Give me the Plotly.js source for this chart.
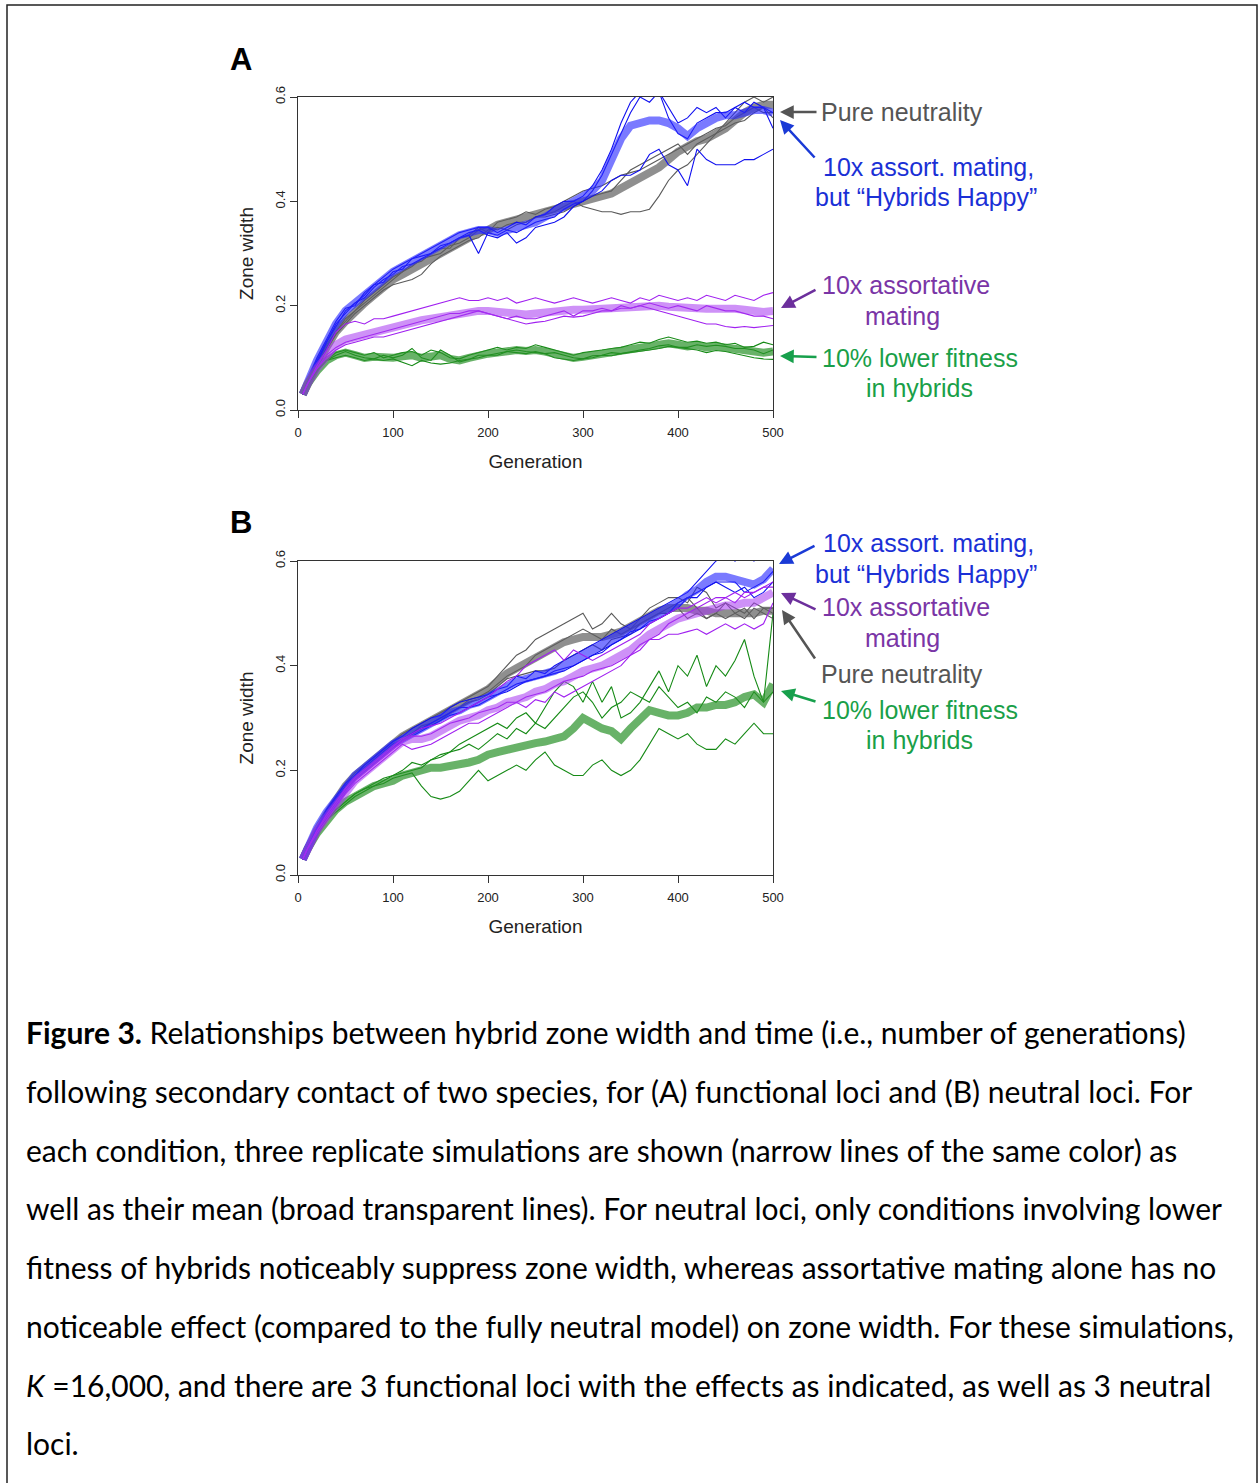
<!DOCTYPE html>
<html><head><meta charset="utf-8">
<script src="https://cdn.plot.ly/plotly-3.0.1.min.js"></script>
<style>html,body{margin:0;padding:0;background:#fff}#fig{width:1258px;height:1483px}</style>
</head><body><div id="fig"></div>
<script>
// ---------------- DATA ----------------
const generations = [5,10,20,30,40,50,60,70,80,90,100,110,120,130,140,150,160,170,180,190,200,210,220,230,240,250,260,270,280,290,300,310,320,330,340,350,360,370,380,390,400,410,420,430,440,450,460,470,480,490,500];
const xTicks = [0,100,200,300,400,500];
const yTicks = [0,0.2,0.4,0.6];
const yTickText = ['0.0','0.2','0.4','0.6'];

// Panel A (functional loci)
const A_neutral_mean = [0.03,
0.05,0.085,0.12,0.15,0.17,0.19,0.205,0.22,0.235,0.25,
0.26,0.27,0.28,0.29,0.30,0.31,0.32,0.33,0.34,0.345,
0.355,0.36,0.365,0.37,0.375,0.38,0.385,0.39,0.395,0.40,
0.405,0.41,0.415,0.425,0.435,0.445,0.455,0.465,0.48,0.495,
0.505,0.515,0.52,0.53,0.54,0.555,0.57,0.58,0.585,0.585];
const A_neutral_rep1 = [0.03,
0.05,0.09,0.125,0.15,0.175,0.19,0.21,0.225,0.24,0.255,
0.265,0.28,0.285,0.30,0.31,0.31,0.33,0.335,0.35,0.34,
0.36,0.365,0.37,0.38,0.375,0.385,0.39,0.40,0.41,0.42,
0.425,0.43,0.44,0.45,0.455,0.46,0.47,0.48,0.49,0.50,
0.51,0.52,0.53,0.54,0.545,0.56,0.57,0.58,0.57,0.57];
const A_neutral_rep2 = [0.03,
0.05,0.08,0.115,0.145,0.165,0.185,0.20,0.215,0.23,0.24,
0.245,0.25,0.26,0.28,0.295,0.305,0.315,0.325,0.33,0.345,
0.35,0.345,0.355,0.36,0.37,0.375,0.38,0.39,0.40,0.39,
0.385,0.38,0.38,0.375,0.38,0.38,0.385,0.41,0.44,0.46,
0.47,0.49,0.51,0.53,0.55,0.57,0.59,0.60,0.59,0.60];
const A_neutral_rep3 = [0.03,
0.05,0.085,0.12,0.15,0.17,0.19,0.205,0.22,0.235,0.25,
0.265,0.275,0.29,0.295,0.30,0.315,0.32,0.33,0.345,0.35,
0.345,0.355,0.36,0.36,0.37,0.37,0.375,0.38,0.39,0.40,
0.41,0.415,0.42,0.44,0.46,0.47,0.48,0.49,0.50,0.51,
0.49,0.51,0.52,0.53,0.54,0.55,0.555,0.57,0.58,0.56];

const A_happy_mean = [0.03,
0.055,0.095,0.13,0.165,0.19,0.205,0.22,0.235,0.25,0.265,
0.275,0.285,0.295,0.305,0.315,0.325,0.335,0.34,0.345,0.345,
0.34,0.345,0.35,0.355,0.36,0.37,0.38,0.39,0.40,0.41,
0.42,0.44,0.48,0.52,0.545,0.55,0.555,0.555,0.55,0.54,
0.525,0.54,0.55,0.56,0.565,0.565,0.57,0.575,0.575,0.57];
const A_happy_rep1 = [0.03,
0.055,0.10,0.135,0.17,0.195,0.20,0.225,0.24,0.255,0.27,
0.28,0.29,0.30,0.31,0.32,0.33,0.34,0.345,0.35,0.35,
0.34,0.35,0.36,0.355,0.37,0.375,0.39,0.40,0.40,0.41,
0.43,0.46,0.50,0.55,0.59,0.61,0.62,0.61,0.58,0.55,
0.56,0.58,0.57,0.58,0.56,0.58,0.59,0.58,0.58,0.57];
const A_happy_rep2 = [0.03,
0.05,0.09,0.13,0.16,0.19,0.205,0.215,0.235,0.25,0.26,
0.275,0.28,0.29,0.30,0.31,0.32,0.33,0.335,0.30,0.34,
0.335,0.345,0.34,0.35,0.36,0.365,0.37,0.385,0.395,0.40,
0.42,0.45,0.49,0.53,0.57,0.60,0.59,0.61,0.56,0.53,
0.52,0.55,0.56,0.57,0.57,0.58,0.57,0.59,0.58,0.54];
const A_happy_rep3 = [0.03,
0.055,0.095,0.13,0.165,0.185,0.205,0.22,0.24,0.245,0.265,
0.27,0.29,0.295,0.30,0.315,0.32,0.33,0.34,0.345,0.335,
0.33,0.34,0.32,0.33,0.35,0.355,0.36,0.37,0.39,0.40,
0.41,0.42,0.44,0.45,0.45,0.46,0.49,0.50,0.47,0.46,
0.43,0.50,0.48,0.47,0.47,0.47,0.48,0.48,0.49,0.50];

const A_assort_mean = [0.03,
0.05,0.08,0.105,0.125,0.135,0.14,0.145,0.15,0.155,0.16,
0.165,0.17,0.172,0.175,0.178,0.182,0.185,0.188,0.19,0.19,
0.188,0.186,0.185,0.183,0.185,0.187,0.19,0.19,0.192,0.192,
0.193,0.195,0.195,0.194,0.195,0.197,0.20,0.20,0.198,0.196,
0.195,0.195,0.194,0.195,0.196,0.194,0.192,0.19,0.188,0.19];
const A_assort_rep1 = [0.03,
0.05,0.085,0.115,0.15,0.165,0.17,0.165,0.175,0.175,0.18,
0.185,0.19,0.195,0.20,0.205,0.21,0.215,0.21,0.21,0.215,
0.21,0.215,0.205,0.21,0.215,0.21,0.205,0.21,0.215,0.21,
0.205,0.21,0.215,0.21,0.205,0.215,0.21,0.22,0.215,0.21,
0.215,0.21,0.22,0.215,0.21,0.22,0.215,0.21,0.22,0.225];
const A_assort_rep2 = [0.03,
0.05,0.08,0.10,0.115,0.125,0.13,0.135,0.14,0.14,0.145,
0.15,0.155,0.16,0.165,0.17,0.175,0.18,0.185,0.19,0.185,
0.18,0.175,0.17,0.165,0.168,0.17,0.175,0.18,0.178,0.18,
0.185,0.19,0.19,0.195,0.195,0.20,0.195,0.19,0.185,0.18,
0.175,0.17,0.165,0.165,0.16,0.158,0.16,0.158,0.16,0.162];
const A_assort_rep3 = [0.03,
0.05,0.08,0.105,0.12,0.13,0.135,0.14,0.145,0.15,0.155,
0.16,0.165,0.17,0.175,0.18,0.185,0.185,0.19,0.19,0.185,
0.18,0.175,0.18,0.175,0.175,0.18,0.185,0.19,0.18,0.19,
0.19,0.195,0.19,0.20,0.195,0.20,0.205,0.20,0.195,0.20,
0.195,0.19,0.20,0.195,0.19,0.19,0.185,0.18,0.18,0.175];

const A_fitness_mean = [0.03,
0.05,0.075,0.095,0.105,0.11,0.105,0.10,0.102,0.10,0.10,
0.103,0.105,0.10,0.102,0.105,0.098,0.095,0.10,0.105,0.108,
0.11,0.113,0.115,0.113,0.115,0.112,0.108,0.105,0.10,0.102,
0.105,0.108,0.11,0.112,0.115,0.118,0.12,0.125,0.128,0.125,
0.122,0.124,0.12,0.122,0.12,0.118,0.115,0.112,0.11,0.112];
const A_fitness_rep1 = [0.03,
0.05,0.075,0.095,0.11,0.115,0.11,0.105,0.11,0.10,0.105,
0.11,0.112,0.105,0.115,0.11,0.10,0.098,0.105,0.11,0.115,
0.12,0.115,0.12,0.118,0.125,0.12,0.115,0.11,0.105,0.11,
0.112,0.115,0.118,0.12,0.125,0.13,0.128,0.135,0.14,0.135,
0.13,0.132,0.128,0.13,0.125,0.128,0.12,0.122,0.13,0.125];
const A_fitness_rep2 = [0.03,
0.05,0.075,0.095,0.10,0.105,0.10,0.095,0.098,0.095,0.098,
0.092,0.085,0.095,0.09,0.088,0.09,0.095,0.098,0.10,0.105,
0.108,0.112,0.11,0.108,0.112,0.108,0.10,0.098,0.095,0.098,
0.10,0.105,0.104,0.108,0.11,0.112,0.115,0.118,0.122,0.12,
0.118,0.115,0.11,0.114,0.112,0.108,0.105,0.10,0.098,0.097];
const A_fitness_rep3 = [0.03,
0.05,0.075,0.095,0.105,0.112,0.105,0.10,0.098,0.105,0.10,
0.105,0.118,0.10,0.095,0.115,0.105,0.092,0.097,0.105,0.105,
0.105,0.112,0.115,0.112,0.11,0.108,0.11,0.105,0.10,0.098,
0.104,0.105,0.11,0.108,0.112,0.115,0.118,0.123,0.125,0.12,
0.12,0.125,0.122,0.124,0.122,0.118,0.118,0.115,0.108,0.115];

// Panel B (neutral loci)
const B_neutral_mean = [0.03,
0.05,0.085,0.115,0.145,0.17,0.19,0.205,0.22,0.235,0.25,
0.265,0.275,0.285,0.295,0.305,0.315,0.325,0.335,0.345,0.355,
0.37,0.385,0.395,0.405,0.415,0.425,0.435,0.445,0.45,0.455,
0.455,0.455,0.46,0.465,0.475,0.485,0.495,0.505,0.51,0.51,
0.51,0.505,0.505,0.50,0.50,0.50,0.50,0.50,0.505,0.505];
const B_neutral_rep1 = [0.03,
0.05,0.09,0.12,0.15,0.175,0.195,0.21,0.225,0.24,0.255,
0.27,0.28,0.29,0.30,0.31,0.32,0.33,0.34,0.35,0.36,
0.38,0.40,0.42,0.43,0.45,0.46,0.47,0.48,0.49,0.50,
0.47,0.48,0.50,0.48,0.47,0.49,0.51,0.52,0.53,0.53,
0.52,0.55,0.54,0.51,0.52,0.50,0.51,0.49,0.51,0.50];
const B_neutral_rep2 = [0.03,
0.05,0.085,0.115,0.145,0.165,0.185,0.20,0.22,0.235,0.25,
0.26,0.27,0.285,0.29,0.30,0.31,0.32,0.335,0.34,0.35,
0.365,0.38,0.39,0.40,0.42,0.43,0.44,0.45,0.46,0.47,
0.46,0.45,0.47,0.46,0.47,0.48,0.49,0.50,0.50,0.51,
0.49,0.50,0.49,0.50,0.49,0.50,0.49,0.51,0.50,0.49];
const B_neutral_rep3 = [0.03,
0.05,0.08,0.11,0.14,0.165,0.185,0.20,0.215,0.23,0.245,
0.26,0.27,0.28,0.285,0.295,0.31,0.32,0.33,0.335,0.345,
0.36,0.375,0.38,0.385,0.39,0.39,0.395,0.41,0.42,0.43,
0.44,0.43,0.45,0.455,0.46,0.48,0.49,0.50,0.51,0.52,
0.53,0.51,0.49,0.50,0.52,0.51,0.50,0.52,0.51,0.51];

const B_happy_mean = [0.03,
0.05,0.09,0.12,0.145,0.17,0.19,0.205,0.22,0.235,0.25,
0.26,0.27,0.28,0.29,0.30,0.31,0.315,0.325,0.33,0.34,
0.35,0.36,0.37,0.375,0.38,0.385,0.39,0.40,0.41,0.42,
0.43,0.44,0.45,0.46,0.47,0.48,0.49,0.50,0.51,0.52,
0.535,0.545,0.56,0.57,0.57,0.565,0.56,0.555,0.565,0.585];
const B_happy_rep1 = [0.03,
0.05,0.09,0.125,0.15,0.175,0.19,0.21,0.225,0.24,0.255,
0.265,0.28,0.29,0.30,0.305,0.32,0.33,0.335,0.34,0.345,
0.355,0.36,0.38,0.375,0.39,0.385,0.40,0.41,0.42,0.43,
0.44,0.45,0.46,0.47,0.48,0.49,0.50,0.51,0.52,0.53,
0.54,0.56,0.58,0.60,0.61,0.60,0.61,0.60,0.62,0.62];
const B_happy_rep2 = [0.03,
0.05,0.09,0.12,0.145,0.17,0.19,0.205,0.22,0.235,0.25,
0.26,0.27,0.28,0.29,0.30,0.31,0.32,0.32,0.33,0.34,
0.345,0.35,0.36,0.37,0.375,0.38,0.39,0.395,0.40,0.41,
0.42,0.43,0.44,0.45,0.46,0.47,0.48,0.49,0.50,0.51,
0.53,0.53,0.55,0.56,0.55,0.54,0.55,0.53,0.54,0.56];
const B_happy_rep3 = [0.03,
0.05,0.09,0.12,0.145,0.165,0.185,0.20,0.215,0.23,0.245,
0.255,0.265,0.275,0.285,0.295,0.305,0.31,0.32,0.325,0.335,
0.345,0.355,0.365,0.37,0.375,0.38,0.385,0.39,0.40,0.41,
0.42,0.425,0.44,0.45,0.465,0.47,0.485,0.49,0.50,0.52,
0.53,0.54,0.55,0.56,0.56,0.56,0.54,0.55,0.56,0.58];

const B_assort_mean = [0.03,
0.05,0.085,0.11,0.135,0.16,0.18,0.195,0.21,0.225,0.24,
0.255,0.26,0.26,0.265,0.275,0.285,0.295,0.30,0.305,0.315,
0.32,0.33,0.335,0.34,0.35,0.355,0.365,0.37,0.38,0.39,
0.395,0.40,0.41,0.42,0.43,0.445,0.46,0.47,0.48,0.49,
0.495,0.50,0.505,0.51,0.515,0.515,0.52,0.52,0.53,0.54];
const B_assort_rep1 = [0.03,
0.05,0.085,0.115,0.14,0.165,0.185,0.20,0.215,0.23,0.245,
0.26,0.27,0.28,0.285,0.29,0.30,0.31,0.32,0.33,0.34,
0.355,0.37,0.38,0.40,0.41,0.42,0.43,0.41,0.43,0.42,
0.41,0.42,0.43,0.44,0.45,0.46,0.48,0.49,0.50,0.51,
0.51,0.52,0.53,0.52,0.53,0.54,0.53,0.54,0.55,0.55];
const B_assort_rep2 = [0.03,
0.05,0.08,0.105,0.13,0.155,0.175,0.19,0.205,0.22,0.235,
0.25,0.24,0.245,0.25,0.26,0.27,0.28,0.29,0.29,0.30,
0.31,0.32,0.33,0.32,0.335,0.33,0.35,0.34,0.35,0.36,
0.37,0.38,0.39,0.40,0.42,0.44,0.45,0.45,0.46,0.46,
0.465,0.47,0.46,0.47,0.48,0.47,0.48,0.47,0.48,0.52];
const B_assort_rep3 = [0.03,
0.05,0.085,0.11,0.135,0.16,0.18,0.195,0.21,0.225,0.24,
0.255,0.265,0.265,0.27,0.28,0.29,0.295,0.30,0.31,0.315,
0.32,0.33,0.33,0.34,0.345,0.35,0.36,0.37,0.375,0.38,
0.39,0.395,0.40,0.41,0.42,0.43,0.45,0.46,0.48,0.49,
0.50,0.51,0.52,0.53,0.53,0.52,0.54,0.54,0.55,0.56];

const B_fitness_mean = [0.03,
0.05,0.08,0.105,0.125,0.14,0.15,0.16,0.17,0.175,0.18,
0.19,0.195,0.20,0.205,0.205,0.208,0.21,0.215,0.22,0.23,
0.235,0.24,0.245,0.25,0.252,0.255,0.26,0.265,0.28,0.30,
0.29,0.28,0.275,0.26,0.28,0.30,0.315,0.31,0.305,0.305,
0.31,0.32,0.32,0.325,0.325,0.33,0.34,0.345,0.33,0.365];
const B_fitness_rep1 = [0.03,
0.05,0.08,0.105,0.125,0.14,0.155,0.165,0.17,0.18,0.19,
0.195,0.20,0.205,0.22,0.225,0.235,0.25,0.26,0.27,0.28,
0.29,0.28,0.30,0.31,0.29,0.32,0.35,0.37,0.36,0.33,
0.37,0.33,0.36,0.30,0.31,0.33,0.36,0.39,0.35,0.40,
0.38,0.42,0.36,0.40,0.38,0.41,0.45,0.38,0.33,0.50];
const B_fitness_rep2 = [0.03,
0.05,0.08,0.105,0.12,0.135,0.15,0.16,0.17,0.175,0.185,
0.19,0.195,0.17,0.15,0.145,0.15,0.16,0.18,0.20,0.18,
0.19,0.20,0.21,0.20,0.22,0.235,0.21,0.20,0.19,0.19,
0.21,0.22,0.20,0.19,0.20,0.22,0.25,0.28,0.27,0.26,
0.27,0.25,0.24,0.24,0.26,0.25,0.27,0.29,0.27,0.27];
const B_fitness_rep3 = [0.03,
0.05,0.08,0.105,0.125,0.14,0.155,0.165,0.175,0.185,0.19,
0.20,0.215,0.21,0.22,0.23,0.235,0.24,0.25,0.24,0.255,
0.27,0.26,0.28,0.27,0.29,0.28,0.30,0.32,0.34,0.35,
0.33,0.30,0.32,0.33,0.35,0.34,0.33,0.36,0.34,0.32,
0.33,0.31,0.34,0.33,0.35,0.34,0.32,0.35,0.33,0.35];

// ---------------- STYLE ----------------
const styles = {
  neutral: {thin:'#5a5a5a', thick:'rgba(95,95,95,0.70)'},
  happy:   {thin:'#1010f0', thick:'rgba(40,40,255,0.62)'},
  fitness: {thin:'#158a15', thick:'rgba(40,145,40,0.70)'},
  assort:  {thin:'#a020f0', thick:'rgba(165,55,240,0.55)'}
};
const panels = [
  {x:'x', y:'y', groups:[
    ['neutral',[A_neutral_rep1,A_neutral_rep2,A_neutral_rep3],A_neutral_mean],
    ['happy',[A_happy_rep1,A_happy_rep2,A_happy_rep3],A_happy_mean],
    ['fitness',[A_fitness_rep1,A_fitness_rep2,A_fitness_rep3],A_fitness_mean],
    ['assort',[A_assort_rep1,A_assort_rep2,A_assort_rep3],A_assort_mean]]},
  {x:'x2', y:'y2', groups:[
    ['fitness',[B_fitness_rep1,B_fitness_rep2,B_fitness_rep3],B_fitness_mean],
    ['neutral',[B_neutral_rep1,B_neutral_rep2,B_neutral_rep3],B_neutral_mean],
    ['happy',[B_happy_rep1,B_happy_rep2,B_happy_rep3],B_happy_mean],
    ['assort',[B_assort_rep1,B_assort_rep2,B_assort_rep3],B_assort_mean]]}
];
const traces = [];
panels.forEach(p => {
  p.groups.forEach(([key, reps, mean]) => {
    reps.forEach(r => traces.push({x:generations, y:r, xaxis:p.x, yaxis:p.y, type:'scatter', mode:'lines',
      line:{color:styles[key].thin, width:1.1}, hoverinfo:'skip', showlegend:false}));
    traces.push({x:generations, y:mean, xaxis:p.x, yaxis:p.y, type:'scatter', mode:'lines',
      line:{color:styles[key].thick, width:8}, hoverinfo:'skip', showlegend:false});
  });
});

const W = 1258, H = 1483;
const px = v => v / W;
const py = v => 1 - v / H;

function xa(dom, anchor){
  return {domain:dom, anchor:anchor, range:[0,500], tickvals:xTicks, ticks:'outside', ticklen:7,
    tickcolor:'#333', showline:true, linecolor:'#333', linewidth:1, mirror:true, showgrid:false, zeroline:false,
    tickfont:{size:13, color:'#222'}, ticklabelstandoff:3,
    title:{text:'Generation', font:{size:19, color:'#222'}, standoff:16}};
}
function ya(dom, anchor){
  return {domain:dom, anchor:anchor, range:[0,0.6], tickvals:yTicks, ticktext:yTickText, tickangle:-90,
    ticks:'outside', ticklen:7, tickcolor:'#333', showline:true, linecolor:'#333', linewidth:1, mirror:true,
    showgrid:false, zeroline:false, tickfont:{size:13, color:'#222'},
    title:{text:'Zone width', font:{size:19, color:'#222'}, standoff:14}};
}

// caption
const capLines = [
  '<b>Figure 3.</b> Relationships between hybrid zone width and time (i.e., number of generations)',
  'following secondary contact of two species, for (A) functional loci and (B) neutral loci. For',
  'each condition, three replicate simulations are shown (narrow lines of the same color) as',
  'well as their mean (broad transparent lines). For neutral loci, only conditions involving lower',
  'fitness of hybrids noticeably suppress zone width, whereas assortative mating alone has no',
  'noticeable effect (compared to the fully neutral model) on zone width. For these simulations,',
  '<i>K</i> =16,000, and there are 3 functional loci with the effects as indicated, as well as 3 neutral',
  'loci.'
];
const capY = [1032,1091,1150,1208,1267,1326,1385,1443];
const cv = document.createElement('canvas').getContext('2d');
cv.font = '100px Lato';
const wRef = cv.measureText('noticeable effect (compared to the fully neutral model) on zone width. For these simulations,').width;
const capSize = Math.max(20, Math.min(32, 100 * 1210 / wRef));

const annotations = [];
capLines.forEach((t,i) => annotations.push({xref:'paper', yref:'paper', x:px(24), y:py(capY[i]),
  xanchor:'left', yanchor:'middle', align:'left', showarrow:false, text:t,
  font:{family:'Lato, Carlito, sans-serif', size:capSize, color:'#000'}}));

// panel letters
annotations.push({xref:'paper', yref:'paper', x:px(241), y:py(60), text:'<b>A</b>', showarrow:false,
  font:{size:31, color:'#000'}, xanchor:'center', yanchor:'middle'});
annotations.push({xref:'paper', yref:'paper', x:px(241), y:py(522), text:'<b>B</b>', showarrow:false,
  font:{size:31, color:'#000'}, xanchor:'center', yanchor:'middle'});

// condition labels (one entry per text line)
const labelColors = {neutral:'#555555', happy:'#1a30d6', assort:'#7a35a6', fitness:'#1a9f48'};
const arrowColors = {neutral:'#555555', happy:'#1a3ad6', assort:'#6c2f9c', fitness:'#17a04c'};
const labelLines = {
  neutral:[['Pure neutrality', 902]],
  happy:[['10x assort. mating,', 929], ['but “Hybrids Happy”', 926]],
  assort:[['10x assortative', 906], ['mating', 902]],
  fitness:[['10% lower fitness', 920], ['in hybrids', 919]]
};
const labelPos = [
  // key, first line center y, head x, head y, tail x, tail y
  ['neutral', 112, 780, 112, 818, 112],
  ['happy', 167, 780, 120, 816, 159],
  ['assort', 285, 781, 308, 817, 289],
  ['fitness', 358, 780, 356, 818, 357],
  ['happy', 543, 779, 564, 816, 545],
  ['assort', 607, 781, 593, 817, 610],
  ['neutral', 674, 782, 610, 816, 660],
  ['fitness', 710, 781, 691, 817, 702]
];
labelPos.forEach(([k, ty, hx, hy, sx, sy]) => {
  labelLines[k].forEach(([t, cx], j) => {
    annotations.push({xref:'paper', yref:'paper', x:px(cx), y:py(ty + 30.5 * j), xanchor:'center', yanchor:'middle',
      showarrow:false, text:t, font:{size:25, color:labelColors[k]}});
  });
  annotations.push({xref:'paper', yref:'paper', x:px(hx), y:py(hy), ax:sx - hx, ay:sy - hy,
    text:'', showarrow:true, arrowhead:2, arrowsize:1.1, arrowwidth:2.5, arrowcolor:arrowColors[k]});
});

const layout = {
  width:W, height:H, margin:{l:0, r:0, t:0, b:0},
  paper_bgcolor:'#fff', plot_bgcolor:'rgba(0,0,0,0)',
  font:{family:'Liberation Sans, Arial, Helvetica, sans-serif', color:'#222'},
  showlegend:false,
  xaxis: xa([px(298), px(773)], 'y'),
  yaxis: ya([py(410), py(97)], 'x'),
  xaxis2: xa([px(298), px(773)], 'y2'),
  yaxis2: ya([py(875), py(561)], 'x2'),
  annotations: annotations,
  shapes:[{type:'rect', xref:'paper', yref:'paper', x0:px(7), x1:px(1257), y0:py(1495), y1:py(5),
    line:{color:'#222', width:1.5}, fillcolor:'rgba(0,0,0,0)'}]
};
Plotly.newPlot('fig', traces, layout, {staticPlot:true, displayModeBar:false});
</script>
</body></html>
